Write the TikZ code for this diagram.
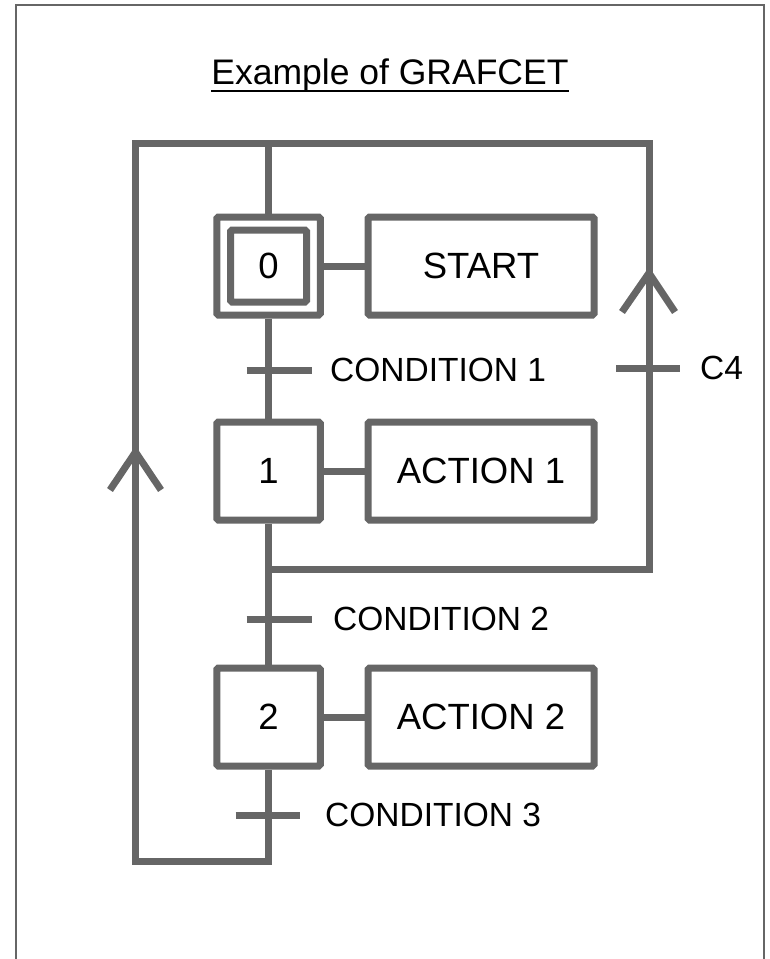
\documentclass[tikz,border=0pt]{standalone}
\usepackage{fontspec}
\setmainfont{Liberation Sans}
\definecolor{lg}{HTML}{666666}
\begin{document}
\begin{tikzpicture}[x=1pt,y=-1pt,
  ln/.style={draw=lg, line width=7pt},
  txt/.style={font=\fontsize{33.5}{38}\selectfont},
  boxtxt/.style={font=\fontsize{36.5}{40}\selectfont},
  stepbox/.style={ln, boxtxt, minimum width=103.5pt, minimum height=98pt, inner sep=0pt, rounded corners=1.5pt},
  initbox/.style={ln, boxtxt, minimum width=76pt, minimum height=72pt, inner sep=0pt, rounded corners=1.5pt},
  actbox/.style={ln, boxtxt, minimum width=226pt, minimum height=98pt, inner sep=0pt, rounded corners=1.5pt},
  lbl/.style={txt, anchor=west, inner sep=0pt},
  bar/.style={ln}
]
\useasboundingbox (0,0) rectangle (769,959);
\fill[white] (0,0) rectangle (769,959);
% outer frame
\draw[lg, line width=2pt] (16,962) -- (16,5) -- (764,5) -- (764,962);

% title
\node[font=\fontsize{35.5}{40}\selectfont, inner sep=0pt] (title) at (390,75) {Example of GRAFCET};
\draw[black, line width=2pt] ([yshift=1pt]title.south west) -- ([yshift=1pt]title.south east);

% steps
\node[stepbox] (s0) at (268.5,266) {};
\node[initbox] (s0i) at (268.5,266) {0};
\node[actbox] (a0) at (481,266) {START};
\node[stepbox] (s1) at (268.5,471) {1};
\node[actbox] (a1) at (481,471) {ACTION 1};
\node[stepbox] (s2) at (268.5,717) {2};
\node[actbox] (a2) at (481,717) {ACTION 2};

% coordinates
\coordinate (tj) at (268.5,143.5);
\coordinate (mj) at (268.5,569);
\coordinate (bj) at (268.5,861);
\coordinate (bl) at (135.5,861);
\coordinate (tl) at (135.5,143.5);
\coordinate (tr) at (649,143.5);
\coordinate (br) at (649,569);
\coordinate (t1) at (268.5,370);
\coordinate (t2) at (268.5,619);
\coordinate (t3) at (268.5,815);
\coordinate (t4) at (649,368);

% links steps-actions
\draw[ln] (s0.east) -- (a0.west);
\draw[ln] (s1.east) -- (a1.west);
\draw[ln] (s2.east) -- (a2.west);

% main flow
\draw[ln] (s0.north) -- (tj);
\draw[ln] (s0.south) -- (s1.north);
\draw[ln] (s1.south) -- (s2.north);
\draw[ln] (s2.south) -- (bj) -- (bl) -- (tl) -- (tr) -- (br) -- (mj);

% arrowheads
\draw[ln] (110,490) -- (135.5,452) -- (161,490);
\draw[ln] (622,312) -- (649,273) -- (675,312);

% transitions
\draw[bar] ([xshift=-22pt]t1) -- ([xshift=43pt]t1);
\draw[bar] ([xshift=-22pt]t2) -- ([xshift=43pt]t2);
\draw[bar] ([xshift=-33pt]t3) -- ([xshift=31pt]t3);
\draw[bar] ([xshift=-33pt]t4) -- ([xshift=31pt]t4);

\node[lbl] (c1) at (330,370) {CONDITION 1};
\node[lbl] (c2) at (333,619) {CONDITION 2};
\node[lbl] (c3) at (325,815) {CONDITION 3};
\node[lbl] (c4) at (700,368) {C4};
\end{tikzpicture}
\end{document}
